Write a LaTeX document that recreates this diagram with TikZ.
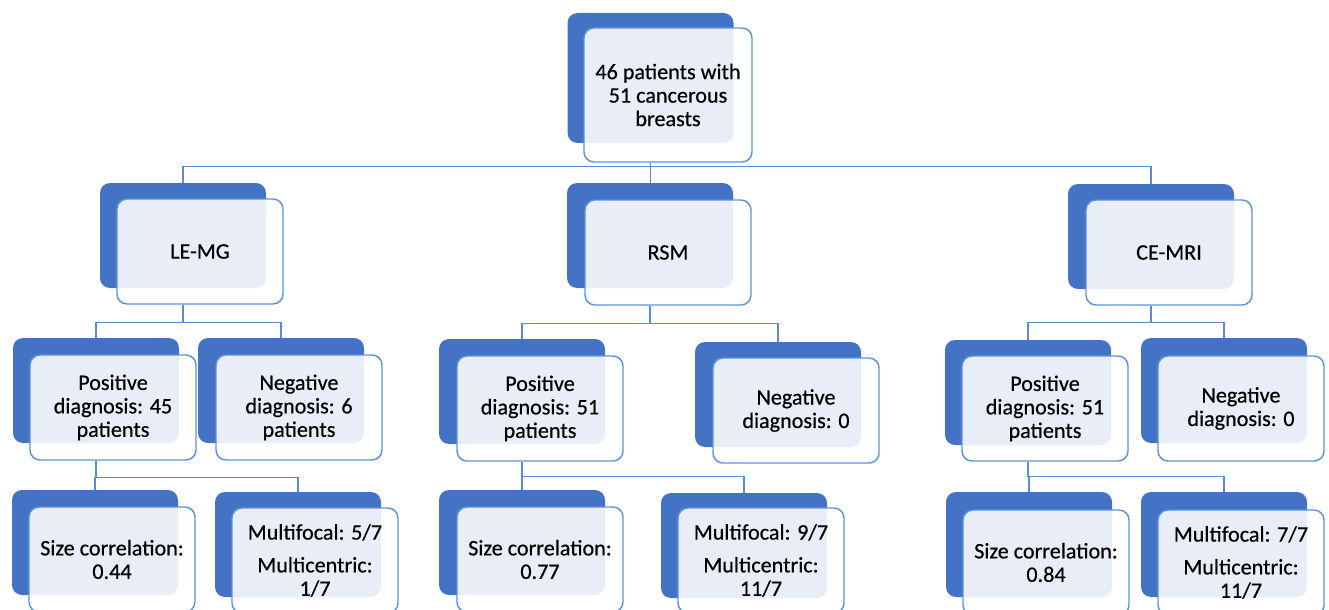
\documentclass[tikz,border=0pt]{standalone}
\usepackage{fontspec}
\setmainfont{Carlito}[FakeBold=0.5]
\usetikzlibrary{calc}
\definecolor{darkblue}{HTML}{4472C4}
\definecolor{edgeblue}{HTML}{5B93DB}
\definecolor{lineblue}{HTML}{5B8BD3}
\tikzset{
  back/.style={fill=darkblue, draw=none, rounded corners=7.5pt, minimum width=124.5pt, minimum height=78.75pt, inner sep=0pt},
  front/.style={draw=edgeblue, line width=1.1pt, fill=white, fill opacity=0.88, text opacity=1,
    rounded corners=7.5pt, minimum width=124.5pt, minimum height=78.75pt, inner sep=0pt, align=center,
    font=\fontsize{16.6}{17.6}\selectfont},
  conn/.style={draw=lineblue, line width=1.1pt}
}
\begin{document}
\begin{tikzpicture}[x=0.75pt,y=-0.75pt]
\useasboundingbox (0,0) rectangle (1329,610);
\clip (0,0) rectangle (1329,610);
% back boxes
\node[back, minimum height=97.5pt] (topd) at (650.5,78) {};
\node[back] (lemgd) at (183,235.5) {};
\node[back] (rsmd) at (650,235.5) {};
\node[back] (cemrid) at (1151,236.5) {};
\node[back] (lpd) at (96,390.5) {};
\node[back] (lnd) at (281,390.5) {};
\node[back] (rpd) at (522,391.5) {};
\node[back] (rnd) at (778,394.5) {};
\node[back] (cpd) at (1028,392.5) {};
\node[back] (cnd) at (1224,390.5) {};
\node[back] (lsd) at (95,542.5) {};
\node[back] (lmd) at (298,544.5) {};
\node[back] (rsd) at (522,542.5) {};
\node[back] (rmd) at (744,545.5) {};
\node[back] (csd) at (1029,544.5) {};
\node[back] (cmd) at (1224,544.5) {};
% front boxes
\node[front, minimum width=126pt, minimum height=100.5pt] (top) at (668,95) {46 patients with\\51 cancerous\\breasts};
\node[front] (lemg) at (200,251.5) {LE-MG};
\node[front] (rsm) at (668,252.5) {RSM};
\node[front] (cemri) at (1169,252.5) {CE-MRI};
\node[front] (lp) at (113,407.5) {Positive\\diagnosis: 45\\patients};
\node[front] (ln) at (299,407.5) {Negative\\diagnosis: 6\\patients};
\node[front] (rp) at (540,408.5) {Positive\\diagnosis: 51\\patients};
\node[front] (rn) at (796,410.5) {Negative\\diagnosis: 0};
\node[front] (cp) at (1045,408.5) {Positive\\diagnosis: 51\\patients};
\node[front] (cn) at (1241,408.5) {Negative\\diagnosis: 0};
\node[front] (ls) at (112,559.5) {Size correlation:\\0.44};
\node[front] (lm) at (315,560.5) {Multifocal: 5/7\\[7pt]Multicentric:\\1/7};
\node[front] (rs) at (540,559.5) {Size correlation:\\0.77};
\node[front] (rm) at (761,560.5) {Multifocal: 9/7\\[7pt]Multicentric:\\11/7};
\node[front] (cs) at (1046,562.5) {Size correlation:\\0.84};
\node[front] (cm) at (1241,562.5) {Multifocal: 7/7\\[7pt]Multicentric:\\11/7};
% junctions
\coordinate (j0) at ($(top.south -| topd.center)+(0,4)$);
\coordinate (j1) at ($(lemg.south -| lemgd.center)+(0,18)$);
\coordinate (j2) at ($(rsm.south -| rsmd.center)+(0,18)$);
\coordinate (j3) at ($(cemri.south -| cemrid.center)+(0,17)$);
\coordinate (j4) at ($(lp.south -| lpd.center)+(0,17)$);
\coordinate (j5) at ($(rp.south -| rpd.center)+(0,15)$);
\coordinate (j6) at ($(cp.south -| cpd.center)+(0,15)$);
% connectors
\draw[conn] (top.south -| topd.center) -- (j0);
\draw[conn] (j0) -| (lemgd.north);
\draw[conn] (j0) -| (cemrid.north);
\draw[conn] (j0) -- (rsmd.north -| j0);
\draw[conn] (lemg.south -| lemgd.center) -- (j1) -| (lpd.north);
\draw[conn] (j1) -| (lnd.north);
\draw[conn] (rsm.south -| rsmd.center) -- (j2) -| (rpd.north);
\draw[conn] (j2) -| (rnd.north);
\draw[conn] (cemri.south -| cemrid.center) -- (j3) -| (cpd.north);
\draw[conn] (j3) -| (cnd.north);
\draw[conn] (lp.south -| lpd.center) -- (j4) -| (lsd.north);
\draw[conn] (j4) -| (lmd.north);
\draw[conn] (rp.south -| rpd.center) -- (j5) -| (rsd.north);
\draw[conn] (j5) -| (rmd.north);
\draw[conn] (cp.south -| cpd.center) -- (j6) -| (csd.north);
\draw[conn] (j6) -| (cmd.north);
\end{tikzpicture}
\end{document}
